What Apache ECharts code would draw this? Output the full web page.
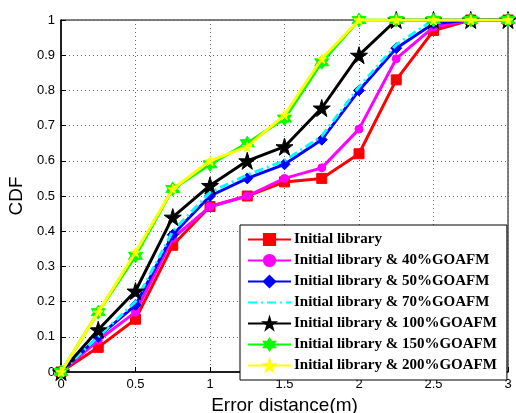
<!DOCTYPE html>
<html><head><meta charset="utf-8">
<script src="https://cdn.jsdelivr.net/npm/echarts@6/dist/echarts.min.js"></script>
<style>html,body{margin:0;padding:0;background:#fff}#c{width:516px;height:413px}</style>
</head><body><div id="c"></div>
<script>
const xValues = [0, 0.25, 0.5, 0.75, 1, 1.25, 1.5, 1.75, 2, 2.25, 2.5, 2.75, 3];
const xTicks = ['0', '0.5', '1', '1.5', '2', '2.5', '3'];
const yTicks = ['0', '0.1', '0.2', '0.3', '0.4', '0.5', '0.6', '0.7', '0.8', '0.9', '1'];
const seriesNames = ['Initial library', 'Initial library & 40%GOAFM', 'Initial library & 50%GOAFM',
  'Initial library & 70%GOAFM', 'Initial library & 100%GOAFM', 'Initial library & 150%GOAFM',
  'Initial library & 200%GOAFM'];
const initial   = [0, 0.07, 0.15, 0.36, 0.47, 0.50, 0.54, 0.55, 0.62, 0.83, 0.97, 1, 1];
const goafm40   = [0, 0.09, 0.17, 0.38, 0.47, 0.50, 0.55, 0.58, 0.69, 0.89, 0.98, 1, 1];
const goafm50   = [0, 0.10, 0.19, 0.39, 0.50, 0.55, 0.59, 0.66, 0.80, 0.92, 0.99, 1, 1];
const goafm70   = [0, 0.10, 0.20, 0.40, 0.51, 0.56, 0.60, 0.67, 0.81, 0.93, 1, 1, 1];
const goafm100  = [0, 0.12, 0.23, 0.44, 0.53, 0.60, 0.64, 0.75, 0.90, 1, 1, 1, 1];
const goafm150  = [0, 0.17, 0.33, 0.52, 0.59, 0.65, 0.72, 0.88, 1, 1, 1, 1, 1];
const goafm200  = [0, 0.17, 0.34, 0.52, 0.60, 0.64, 0.73, 0.89, 1, 1, 1, 1, 1];
const allValues = [initial, goafm40, goafm50, goafm70, goafm100, goafm150, goafm200];

const colors = ['#ff0000', '#ff00ff', '#0000ff', '#00ffff', '#000000', '#00ff00', '#ffff00'];
const star5 = 'path://M50,0 L61,35 L98,35 L68,57 L79,91 L50,70 L21,91 L32,57 L2,35 L39,35 Z';
const star6 = 'path://M50,0 L64,25 L93,25 L79,50 L93,75 L64,75 L50,100 L36,75 L7,75 L21,50 L7,25 L36,25 Z';
const symbols = ['rect', 'circle', 'diamond', 'none', star5, star6, star5];
const symbolSizes = [10, 8, 11, 0, 17, 14, 10];

const series = allValues.map((vals, i) => ({
  name: seriesNames[i],
  type: 'line',
  data: vals.map((v, j) => [xValues[j], v]),
  symbol: symbols[i],
  symbolSize: symbolSizes[i],
  showSymbol: symbols[i] !== 'none',
  itemStyle: { color: colors[i], borderColor: colors[i], borderWidth: 1 },
  lineStyle: { color: colors[i], width: 3, type: i === 3 ? [9, 4, 2, 4] : 'solid' },
  z: 2 + i,
  animation: false
}));

const legendData = seriesNames.map((n, i) => i === 3 ? { name: n, itemStyle: { opacity: 0 } } : { name: n });

const chart = echarts.init(document.getElementById('c'), null, { renderer: 'canvas' });
chart.setOption({
  animation: false,
  backgroundColor: '#fff',
  grid: { left: 61, right: 8, top: 20, bottom: 41, outerBoundsMode: 'none', containLabel: false,
    show: true, borderColor: '#000', borderWidth: 1, backgroundColor: 'transparent' },
  xAxis: {
    type: 'value', min: 0, max: 3, interval: 0.5,
    name: 'Error distance(m)', nameLocation: 'middle', nameGap: 20,
    nameTextStyle: { fontFamily: 'Liberation Sans', fontSize: 19, color: '#000', verticalAlign: 'top' },
    axisLine: { show: true, lineStyle: { color: '#000', width: 1.5 } },
    axisTick: { show: true, inside: true, length: 5, lineStyle: { color: '#000' } },
    axisLabel: { fontFamily: 'Liberation Sans', fontSize: 13, color: '#000', margin: 6,
      formatter: v => xTicks[Math.round(v / 0.5)] },
    splitLine: { show: true, lineStyle: { type: [1, 3], color: '#666', width: 1 } }
  },
  yAxis: {
    type: 'value', min: 0, max: 1, interval: 0.1,
    name: 'CDF', nameLocation: 'middle', nameGap: 35,
    nameTextStyle: { fontFamily: 'Liberation Sans', fontSize: 19, color: '#000' },
    axisLine: { show: true, lineStyle: { color: '#000', width: 1.5 } },
    axisTick: { show: true, inside: true, length: 5, lineStyle: { color: '#000' } },
    axisLabel: { fontFamily: 'Liberation Sans', fontSize: 13, color: '#000', margin: 6,
      formatter: v => yTicks[Math.round(v * 10)] },
    splitLine: { show: true, lineStyle: { type: [1, 3], color: '#666', width: 1 } }
  },
  legend: {
    orient: 'vertical', left: 240, top: 225,
    padding: [7, 10, 7, 7], itemGap: 6, itemWidth: 43, itemHeight: 14,
    backgroundColor: '#fff', borderColor: '#000', borderWidth: 1, borderRadius: 0,
    textStyle: { fontFamily: 'Liberation Serif', fontWeight: 'bold', fontSize: 15, color: '#000',
      lineHeight: 14, padding: [0, 0, 0, -2] },
    data: legendData
  },
  series: series
});
</script></body></html>
